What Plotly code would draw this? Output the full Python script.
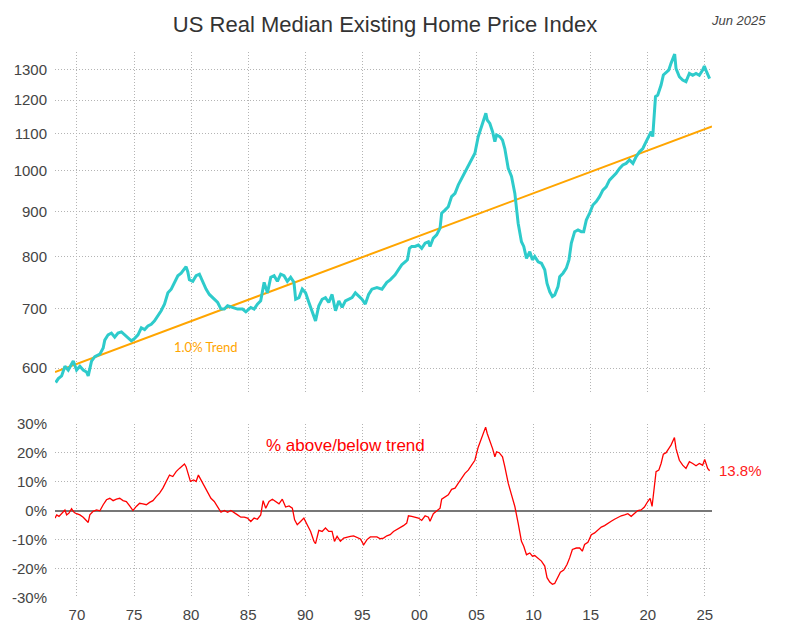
import numpy as np
import plotly.graph_objects as go

# ---------------- data ----------------
price_years = [
    1968.14, 1968.37, 1968.66, 1968.95, 1969.24, 1969.53, 1969.68, 1969.97, 1970.26, 1970.55,
    1970.84, 1970.99, 1971.28, 1971.57, 1972.01, 1972.30, 1972.44, 1972.73, 1973.02, 1973.31,
    1973.60, 1973.90, 1974.19, 1974.48, 1974.77, 1975.06, 1975.35, 1975.64, 1975.93, 1976.22,
    1976.51, 1976.80, 1977.09, 1977.38, 1977.67, 1977.97, 1978.26, 1978.55, 1978.84, 1979.13,
    1979.42, 1979.56, 1979.71, 1979.85, 1980.15, 1980.44, 1980.73, 1981.02, 1981.31, 1981.60,
    1982.03, 1982.33, 1982.62, 1982.91, 1983.20, 1983.63, 1984.07, 1984.51, 1984.80, 1985.23,
    1985.52, 1985.81, 1986.10, 1986.40, 1986.69, 1986.98, 1987.27, 1987.56, 1987.85, 1988.14,
    1988.43, 1988.72, 1989.01, 1989.16, 1989.45, 1989.74, 1990.03, 1990.32, 1990.61, 1990.90,
    1991.19, 1991.48, 1991.77, 1992.06, 1992.35, 1992.65, 1992.94, 1993.23, 1993.52, 1993.81,
    1994.10, 1994.39, 1994.68, 1994.97, 1995.26, 1995.55, 1995.84, 1996.28, 1996.72, 1997.15,
    1997.44, 1997.87, 1998.17, 1998.46, 1998.75, 1998.95, 1999.13, 1999.33, 1999.62, 1999.91,
    2000.20, 2000.50, 2000.79, 2000.93, 2001.22, 2001.51, 2001.81, 2001.95, 2002.24, 2002.53,
    2002.82, 2003.12, 2003.41, 2003.70, 2003.99, 2004.28, 2004.57, 2004.86, 2005.15, 2005.45,
    2005.65, 2005.82, 2005.94, 2006.17, 2006.41, 2006.61, 2006.76, 2007.05, 2007.28, 2007.48,
    2007.78, 2008.07, 2008.36, 2008.65, 2008.94, 2009.14, 2009.38, 2009.67, 2009.90, 2010.10,
    2010.40, 2010.69, 2010.98, 2011.18, 2011.42, 2011.65, 2011.85, 2012.14, 2012.29, 2012.58,
    2012.87, 2013.10, 2013.31, 2013.60, 2013.89, 2014.18, 2014.39, 2014.62, 2014.91, 2015.20,
    2015.49, 2015.78, 2016.07, 2016.36, 2016.65, 2016.94, 2017.23, 2017.53, 2017.82, 2018.11,
    2018.40, 2018.70, 2018.99, 2019.28, 2019.57, 2019.86, 2020.09, 2020.30, 2020.44, 2020.68,
    2020.88, 2021.17, 2021.37, 2021.61, 2021.84, 2022.04, 2022.19, 2022.36, 2022.48, 2022.77,
    2023.06, 2023.35, 2023.65, 2023.94, 2024.23, 2024.52, 2024.81, 2024.96, 2025.16, 2025.42,
]
price_vals = [
    578, 584, 588, 603, 597, 607, 611, 597, 603, 597,
    594, 588, 611, 618, 622, 632, 645, 654, 657, 650,
    657, 659, 654, 650, 644, 648, 654, 666, 663, 669,
    672, 678, 687, 696, 708, 729, 736, 749, 762, 767,
    777, 780, 770, 754, 751, 762, 765, 749, 736, 726,
    717, 711, 699, 699, 705, 702, 699, 699, 694, 702,
    699, 708, 714, 749, 729, 759, 762, 751, 765, 762,
    751, 759, 749, 717, 720, 736, 729, 711, 696, 678,
    705, 717, 720, 711, 726, 696, 714, 702, 714, 717,
    720, 729, 723, 717, 708, 726, 736, 739, 736, 749,
    754, 764, 774, 784, 790, 794, 818, 822, 822, 825,
    818, 829, 832, 822, 840, 847, 862, 896, 903, 911,
    935, 943, 964, 980, 997, 1010, 1028, 1046, 1092, 1125,
    1140, 1160, 1140, 1130, 1106, 1078, 1097, 1092, 1082, 1059,
    1006, 985, 943, 873, 832, 822, 797, 811, 794, 801,
    790, 787, 774, 747, 731, 722, 725, 741, 760, 767,
    777, 794, 829, 854, 858, 854, 854, 880, 896, 915,
    923, 935, 951, 959, 976, 985, 993, 1006, 1015, 1019,
    1028, 1019, 1037, 1050, 1059, 1078, 1092, 1106, 1092, 1211,
    1216, 1248, 1281, 1291, 1297, 1320, 1337, 1352, 1302, 1275,
    1264, 1259, 1286, 1280, 1286, 1280, 1297, 1311, 1291, 1269,
]

trend_years = [1968.08, 2025.63]
trend_vals = [594, 1121]

pct_years = [
    1968.08, 1968.23, 1968.43, 1968.66, 1968.95, 1969.10, 1969.30, 1969.53, 1969.77, 1969.97,
    1970.26, 1970.55, 1970.84, 1970.99, 1971.13, 1971.42, 1971.72, 1972.01, 1972.30, 1972.59,
    1972.88, 1973.17, 1973.46, 1973.75, 1974.04, 1974.33, 1974.62, 1974.91, 1975.20, 1975.49,
    1975.78, 1976.08, 1976.37, 1976.66, 1976.95, 1977.24, 1977.53, 1977.82, 1978.11, 1978.40,
    1978.69, 1978.98, 1979.27, 1979.42, 1979.56, 1979.71, 1979.94, 1980.23, 1980.44, 1980.64,
    1980.87, 1981.16, 1981.45, 1981.74, 1982.03, 1982.33, 1982.62, 1982.91, 1983.20, 1983.49,
    1983.78, 1984.07, 1984.36, 1984.65, 1984.94, 1985.23, 1985.52, 1985.81, 1986.10, 1986.31,
    1986.54, 1986.83, 1987.12, 1987.41, 1987.70, 1987.99, 1988.28, 1988.58, 1988.87, 1989.07,
    1989.30, 1989.59, 1989.88, 1990.17, 1990.47, 1990.76, 1990.90, 1991.19, 1991.48, 1991.77,
    1992.06, 1992.35, 1992.56, 1992.79, 1993.08, 1993.37, 1993.66, 1993.95, 1994.24, 1994.53,
    1994.83, 1995.12, 1995.41, 1995.70, 1995.99, 1996.28, 1996.57, 1996.86, 1997.15, 1997.44,
    1997.73, 1998.02, 1998.31, 1998.60, 1998.89, 1999.04, 1999.33, 1999.62, 1999.91, 2000.20,
    2000.50, 2000.79, 2000.93, 2001.22, 2001.51, 2001.81, 2001.95, 2002.24, 2002.53, 2002.82,
    2003.12, 2003.41, 2003.70, 2003.99, 2004.28, 2004.57, 2004.86, 2005.15, 2005.45, 2005.65,
    2005.80, 2005.94, 2006.17, 2006.41, 2006.61, 2006.76, 2006.99, 2007.28, 2007.48, 2007.78,
    2008.07, 2008.36, 2008.65, 2008.94, 2009.14, 2009.38, 2009.67, 2009.90, 2010.10, 2010.40,
    2010.69, 2010.98, 2011.18, 2011.42, 2011.65, 2011.85, 2012.14, 2012.35, 2012.64, 2012.93,
    2013.16, 2013.40, 2013.75, 2014.04, 2014.27, 2014.47, 2014.76, 2015.06, 2015.35, 2015.64,
    2015.93, 2016.22, 2016.51, 2016.80, 2017.09, 2017.38, 2017.68, 2017.97, 2018.26, 2018.55,
    2018.84, 2019.13, 2019.42, 2019.71, 2020.00, 2020.21, 2020.38, 2020.50, 2020.73, 2020.97,
    2021.17, 2021.37, 2021.61, 2021.84, 2022.04, 2022.34, 2022.48, 2022.77, 2023.06, 2023.35,
    2023.65, 2023.94, 2024.23, 2024.52, 2024.81, 2024.99, 2025.25, 2025.42,
]
pct_vals = [
    -2.5, -1.4, -1.9, -0.8, 0.3, -1.4, -0.8, 0.7, -0.6, -1.0,
    -1.4, -2.2, -3.3, -4.0, -1.4, -0.2, 0.3, 0.0, 2.1, 3.8,
    4.3, 3.5, 4.0, 4.3, 3.5, 3.2, 1.7, 0.1, 1.5, 2.6,
    2.4, 2.1, 2.9, 3.5, 4.9, 6.1, 7.8, 10.1, 12.3, 11.8,
    13.5, 14.6, 15.8, 16.1, 15.2, 12.9, 10.1, 10.6, 10.1, 12.3,
    10.6, 8.3, 6.1, 4.3, 3.2, 1.5, -0.5, 0.1, -0.5, 0.1,
    -0.8, -1.4, -2.2, -2.2, -2.5, -3.7, -2.5, -2.9, -1.4, 3.5,
    0.9, 3.2, 4.0, 3.2, 2.4, 4.0, 1.3, 1.7, 0.9, -3.1,
    -4.8, -3.7, -2.5, -4.8, -7.1, -10.5, -11.3, -6.7, -7.1, -5.9,
    -7.1, -7.1, -10.5, -8.8, -10.5, -9.4, -9.0, -8.8, -8.6, -9.1,
    -9.7, -11.7, -9.9, -9.0, -9.0, -9.0, -9.6, -9.4, -8.6, -8.2,
    -7.1, -6.5, -5.9, -5.1, -4.2, -1.7, -1.9, -2.2, -2.5, -3.3,
    -1.7, -2.2, -3.6, -1.0, -0.2, 0.9, 4.0, 4.7, 5.5, 7.4,
    7.8, 9.5, 11.2, 12.9, 14.0, 15.7, 17.4, 21.9, 24.9, 27.1,
    28.8, 26.6, 24.3, 21.4, 18.6, 20.3, 20.0, 18.6, 15.2, 9.5,
    5.5, 1.5, -4.2, -10.5, -12.2, -15.1, -14.5, -15.6, -15.4, -16.5,
    -17.3, -19.0, -23.0, -24.5, -25.3, -25.0, -22.5, -21.1, -20.4, -18.5,
    -16.2, -13.3, -12.8, -12.8, -13.9, -11.6, -10.8, -8.2, -7.6, -6.5,
    -5.6, -5.1, -4.2, -3.6, -2.9, -2.2, -1.7, -1.4, -1.0, -1.9,
    -0.8, 0.1, 0.3, 1.3, 3.2, 4.3, 1.5, 6.0, 13.5, 14.0,
    16.3, 19.5, 20.0, 21.4, 22.6, 25.2, 21.4, 17.4, 15.7, 14.6,
    16.9, 16.3, 15.5, 16.3, 15.7, 17.7, 14.6, 13.8,
]

x_tickvals = [1970, 1975, 1980, 1985, 1990, 1995, 2000, 2005, 2010, 2015, 2020, 2025]
x_ticktext = ["70", "75", "80", "85", "90", "95", "00", "05", "10", "15", "20", "25"]
price_tickvals = [600, 700, 800, 900, 1000, 1100, 1200, 1300]
price_ticktext = ["600", "700", "800", "900", "1000", "1100", "1200", "1300"]
pct_tickvals = [-30, -20, -10, 0, 10, 20, 30]
pct_ticktext = ["-30%", "-20%", "-10%", "0%", "10%", "20%", "30%"]

# ---------------- figure ----------------
FONT = "Liberation Sans, Arial, sans-serif"
GRID = "#b4b4b4"
GDASH = "1px,2px"
TICKC = "#444444"

fig = go.Figure()
fig.add_trace(go.Scatter(x=trend_years, y=trend_vals, mode="lines",
                         line=dict(color="#FFA500", width=2), xaxis="x2", yaxis="y2",
                         hoverinfo="skip"))
fig.add_trace(go.Scatter(x=price_years, y=price_vals, mode="lines",
                         line=dict(color="#2ECBCB", width=3), xaxis="x2", yaxis="y2"))
fig.add_trace(go.Scatter(x=pct_years, y=pct_vals, mode="lines",
                         line=dict(color="#FF0000", width=1.3), xaxis="x", yaxis="y"))

xr = [1968.08, 2025.63]
common_x = dict(range=xr, tickvals=x_tickvals, ticktext=x_ticktext, showgrid=True,
                gridcolor=GRID, griddash=GDASH, gridwidth=1, zeroline=False, showline=False,
                ticks="outside", ticklen=3, tickcolor="rgba(0,0,0,0)")

fig.update_layout(
    width=797, height=635,
    margin=dict(l=53, r=85, t=52, b=35),
    paper_bgcolor="white", plot_bgcolor="white",
    showlegend=False,
    title=dict(text="US Real Median Existing Home Price Index", x=385 / 797, xanchor="center",
               xref="container", y=1 - 24 / 635, yanchor="middle", yref="container",
               font=dict(family=FONT, size=22, color="#333333")),
    xaxis=dict(domain=[0, 1], anchor="y", tickfont=dict(family=FONT, size=15, color=TICKC),
               **common_x),
    xaxis2=dict(domain=[0, 1], anchor="y2", matches="x", showticklabels=False, **common_x),
    yaxis=dict(domain=[0, 175 / 548], anchor="x", range=[-30, 30], tickvals=pct_tickvals,
               ticktext=pct_ticktext, showgrid=True, gridcolor=GRID, griddash=GDASH,
               zeroline=True, zerolinecolor="#777777", zerolinewidth=1.5, showline=False,
               ticks="outside", ticklen=4, tickcolor="rgba(0,0,0,0)",
               tickfont=dict(family=FONT, size=15, color=TICKC)),
    yaxis2=dict(domain=[205 / 548, 1], anchor="x2", type="log",
                range=[np.log10(561.5), np.log10(1359.4)], tickvals=price_tickvals,
                ticktext=price_ticktext, showgrid=True, gridcolor=GRID, griddash=GDASH,
                zeroline=False, showline=False,
                ticks="outside", ticklen=4, tickcolor="rgba(0,0,0,0)",
                tickfont=dict(family=FONT, size=15, color=TICKC)),
)

fig.add_annotation(text="<i>Jun 2025</i>", xref="paper", yref="paper",
                   x=(739 - 53) / 659, y=1 + (52 - 20) / 548, showarrow=False,
                   xanchor="center", yanchor="middle",
                   font=dict(family=FONT, size=13, color="#444444"))
fig.add_annotation(text="1.0% Trend", xref="x2", yref="y2", x=1981.28, y=np.log10(633.5),
                   showarrow=False, xanchor="center", yanchor="middle",
                   font=dict(family="Lato, Open Sans, sans-serif", size=13, color="#FFA500"))
fig.add_annotation(text="% above/below trend", xref="x", yref="y", x=1993.55, y=22.6,
                   showarrow=False, xanchor="center", yanchor="middle",
                   font=dict(family=FONT, size=17, color="#FF0000"))
fig.add_annotation(text=f"{pct_vals[-1]:.1f}%", xref="x", yref="y",
                   x=pct_years[-1], y=pct_vals[-1], showarrow=False,
                   xanchor="left", yanchor="middle", xshift=7,
                   font=dict(family=FONT, size=15, color="#FF2020"))

fig.write_html("out.html")
